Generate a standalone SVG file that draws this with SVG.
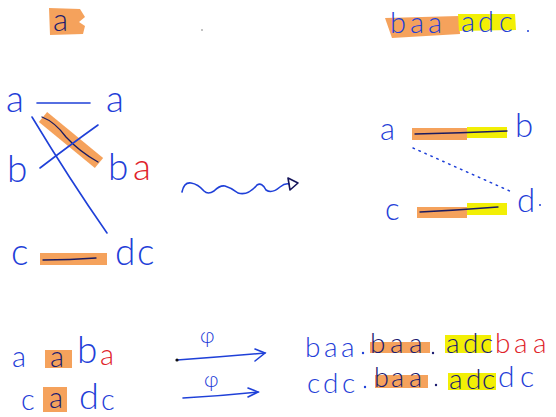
<svg xmlns="http://www.w3.org/2000/svg" width="556" height="417" viewBox="0 0 556 417">
<style>
text{font-family:"Lato","Liberation Sans",sans-serif;font-weight:300}
.bl{fill:#1f40d8}
.nv{fill:#1b1b70}
.rd{fill:#e0232a}
.ho{fill:#f4984a;opacity:.9}
.hy{fill:#f2ef05}
.ln{fill:none;stroke:#1f40d8;stroke-width:1.6;stroke-linecap:round}
.nl{fill:none;stroke:#1b1b60;stroke-width:1.3;stroke-linecap:round}
.hs{fill:none;stroke:#f4984a;stroke-width:13;opacity:.9}
</style>
<rect width="556" height="417" fill="#fff"/>

<g id="top-left">
<path class="ho" d="M49 8 L80 9 L85 17 L79 22 L85 26 L83 34 L50 35 Z"/>
<text class="nv" x="53" y="31" font-size="31">a</text>
<circle cx="202" cy="30" r="0.8" fill="#777"/>
</g>

<g id="top-right">
<path class="ho" d="M385 18 L459 16 L460 34 L392 38 Z"/>
<path class="hy" d="M458 14 L515 14 L516 30 L459 31 Z"/>
<text class="bl" font-size="29" y="33" x="390 410 428">baa</text>
<text class="bl" font-size="29" y="32" x="461 478 499">adc</text>
<circle cx="528" cy="31" r="1" fill="#1f40d8"/>
</g>

<g id="left-graph">
<g id="conn-left">
<path class="hs" d="M43 117 L99 163"/>
<path class="nl" d="M42 117 Q55 122 66 137 Q80 152 98 162"/>
<path class="ln" d="M37 103 L90 103"/>
<path class="ln" d="M32 117 Q70 180 107 233"/>
<path class="ln" d="M40 168 Q70 145 98 125"/>
<rect class="ho" x="40" y="253" width="67" height="12"/>
<path class="nl" d="M43 260 Q70 260 96 258"/>
</g>
<g id="n-a1"><text class="bl" x="6" y="112" font-size="37">a</text></g>
<g id="n-a2"><text class="bl" x="106" y="112" font-size="37">a</text></g>
<g id="n-b1"><text class="bl" x="7" y="182" font-size="37">b</text></g>
<g id="n-ba"><text class="bl" x="108" y="180" font-size="37">b</text><text class="rd" x="133" y="180" font-size="37">a</text></g>
<g id="n-c1"><text class="bl" x="11" y="265" font-size="37">c</text></g>
<g id="n-dc"><text class="bl" x="115" y="265" font-size="37">d</text><text class="bl" x="137" y="265" font-size="37">c</text></g>
</g>

<g id="wavy-arrow">
<path class="ln" d="M182 192 Q184 182 191 183 Q198 184 204 191 Q208 195 214 191 Q220 185 225 186 Q232 188 238 193 Q248 196 257 185 Q262 182 266 190 Q272 194 280 187 Q285 183 289 184"/>
<path d="M288 178 L298 183 L290 190 Z" fill="none" stroke="#14145a" stroke-width="1.6" stroke-linejoin="round"/>
</g>

<g id="right-graph">
<g id="conn-right">
<rect class="ho" x="412" y="128" width="55" height="12"/>
<rect class="hy" x="467" y="127" width="40" height="11"/>
<path class="nl" d="M415 134 Q460 133 507 131"/>
<path d="M413 148 L512 192" fill="none" stroke="#1f40d8" stroke-width="1.5" stroke-dasharray="1.5 5" stroke-linecap="round"/>
<rect class="ho" x="417" y="207" width="50" height="11"/>
<rect class="hy" x="467" y="203" width="40" height="12"/>
<path class="nl" d="M420 212 Q460 210 498 207"/>
</g>
<g id="n-ra"><text class="bl" x="380" y="140" font-size="31">a</text></g>
<g id="n-rb"><text class="bl" x="515" y="137" font-size="33">b</text></g>
<g id="n-rc"><text class="bl" x="385" y="220" font-size="31">c</text></g>
<g id="n-rd"><text class="bl" x="517" y="212" font-size="33">d</text><circle cx="540" cy="205" r="1" fill="#1f40d8"/></g>
</g>

<g id="bottom-left">
<rect class="ho" x="45" y="350" width="27" height="18"/>
<rect class="ho" x="43" y="387" width="24" height="25"/>
<text class="bl" x="12" y="367" font-size="29">a</text>
<text class="nv" x="50" y="367" font-size="29">a</text>
<text class="bl" x="77" y="363" font-size="37">b</text>
<text class="rd" x="100" y="365" font-size="29">a</text>
<text class="bl" x="21" y="410" font-size="29">c</text>
<text class="nv" x="49" y="408" font-size="29">a</text>
<text class="bl" x="79" y="409" font-size="36">d</text>
<text class="bl" x="101" y="410" font-size="29">c</text>
</g>

<g id="arrows-phi">
<path class="ln" d="M177 360 Q220 357 265 353"/>
<path class="ln" d="M255 349 L265 353 L255 361"/>
<circle cx="177" cy="360" r="1.6" fill="#111"/>
<text class="bl" x="200" y="343" font-size="21">φ</text>
<path class="ln" d="M183 398 Q220 396 258 392"/>
<path class="ln" d="M248 388 L258 392 L248 397"/>
<text class="bl" x="204" y="387" font-size="21">φ</text>
</g>

<g id="bottom-right">
<rect class="ho" x="370" y="342" width="60" height="11"/>
<rect class="hy" x="445" y="335" width="46" height="18"/>
<rect class="ho" x="375" y="375" width="53" height="13"/>
<rect class="hy" x="448" y="373" width="48" height="17"/>
<text class="bl" font-size="28" y="357" x="305 324 341">baa</text>
<circle cx="363" cy="353" r="1.2" fill="#1f40d8"/>
<text class="nv" font-size="28" y="353" x="370 390 409">baa</text>
<circle cx="433" cy="353" r="1.2" fill="#1b1b70"/>
<text class="nv" font-size="28" y="353" x="446 463 480">adc</text>
<text class="rd" font-size="28" y="353" x="495 514 533">baa</text>
<text class="bl" font-size="28" y="393" x="307 323 342">cdc</text>
<circle cx="365" cy="387" r="1.2" fill="#1f40d8"/>
<text class="nv" font-size="27" y="387" x="374 391 409">baa</text>
<circle cx="436" cy="385" r="1.2" fill="#1b1b70"/>
<text class="nv" font-size="28" y="389" x="449 466 482">adc</text>
<text class="bl" font-size="30" y="387" x="498 520">dc</text>
</g>
</svg>
